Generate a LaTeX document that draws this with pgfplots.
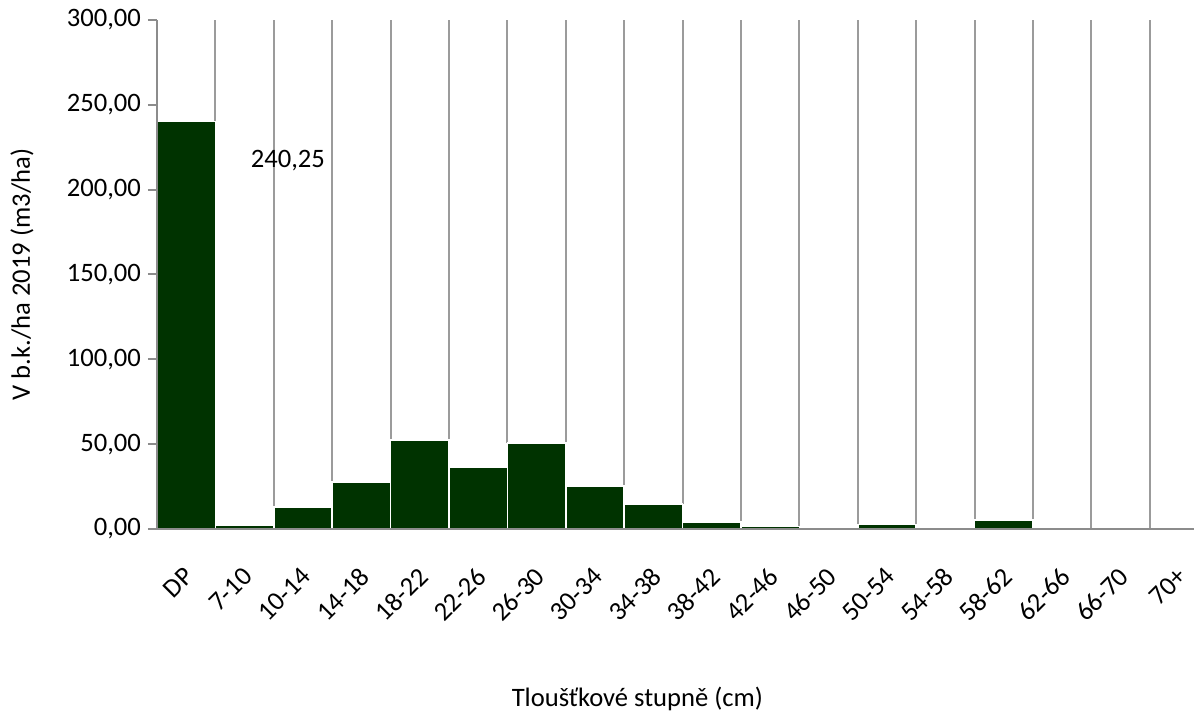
\documentclass[border=0pt]{standalone}
\usepackage{fontspec}
\setmainfont{Carlito}
\usepackage{pgfplots}
\pgfplotsset{compat=1.18}
\definecolor{barGreen}{RGB}{0,51,0}
\definecolor{axGray}{RGB}{140,140,140}
\definecolor{gridGray}{RGB}{155,155,155}
\newcommand{\chartfont}{\fontsize{13.3}{15}\selectfont}
\begin{document}
\begin{tikzpicture}
\begin{axis}[
  at={(0,0)}, anchor=south west,
  scale only axis, width=525.6pt, height=254.5pt,
  xmin=-0.5, xmax=17.5, ymin=0, ymax=300,
  axis lines*=left, axis on top,
  axis line style={axGray, line width=1pt},
  tick align=outside, major tick length=4.5pt,
  ytick={0,50,...,300},
  ytick style={axGray, line width=1pt},
  xtick={0,...,17},
  xtick style={draw=none},
  xticklabels={DP,7-10,10-14,14-18,18-22,22-26,26-30,30-34,34-38,38-42,42-46,46-50,50-54,54-58,58-62,62-66,66-70,70+},
  xticklabel style={xshift=-1.5pt, yshift=-9pt, rotate=45, anchor=north east, font=\chartfont},
  yticklabel style={font=\chartfont,
    /pgf/number format/.cd, fixed, fixed zerofill, precision=2, use comma, 1000 sep={}},
  /pgf/number format/assume math mode=true,
  ylabel={V b.k./ha 2019 (m3/ha)},
  ylabel style={at={(axis description cs:-0.1285,0.5)}, anchor=center, font=\chartfont},
  xlabel={Tloušťkové stupně (cm)},
  xlabel style={at={(axis description cs:0.457,-0.334)}, anchor=center, font=\chartfont},
]
% gray edges of the empty part of each column
\addplot[gridGray, line width=1pt, unbounded coords=jump] coordinates {
  (0.5,240.25) (0.5,300) (0.5,nan)
  (1.5,12.8) (1.5,300) (1.5,nan)
  (2.5,27.8) (2.5,300) (2.5,nan)
  (3.5,52.3) (3.5,300) (3.5,nan)
  (4.5,52.3) (4.5,300) (4.5,nan)
  (5.5,50.7) (5.5,300) (5.5,nan)
  (6.5,50.7) (6.5,300) (6.5,nan)
  (7.5,25.3) (7.5,300) (7.5,nan)
  (8.5,14.6) (8.5,300) (8.5,nan)
  (9.5,4.3) (9.5,300) (9.5,nan)
  (10.5,1.5) (10.5,300) (10.5,nan)
  (11.5,2.6) (11.5,300) (11.5,nan)
  (12.5,2.6) (12.5,300) (12.5,nan)
  (13.5,5.2) (13.5,300) (13.5,nan)
  (14.5,5.2) (14.5,300) (14.5,nan)
  (15.5,0) (15.5,300) (15.5,nan)
  (16.5,0) (16.5,300)
};
% volume per diameter class
\addplot[ybar, bar width=1, fill=barGreen, draw=white, line width=0.8pt] coordinates {
  (0,240.25) (1,2.5) (2,12.8) (3,27.8) (4,52.3) (5,36.5) (6,50.7) (7,25.3) (8,14.6)
  (9,4.3) (10,1.5) (11,0) (12,2.6) (13,0) (14,5.2) (15,0) (16,0) (17,0)
};
\node[font=\chartfont] at (axis cs:1.74,217.4) {240,25};
\end{axis}
\pgfresetboundingbox
\path (-78.5pt,-94pt) rectangle (518.5pt,264.5pt);
\end{tikzpicture}
\end{document}
